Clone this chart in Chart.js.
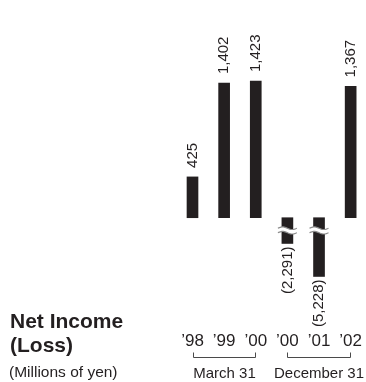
<!DOCTYPE html>
<html>
<head>
<meta charset="utf-8">
<script src="https://cdn.jsdelivr.net/npm/chart.js@4/dist/chart.umd.min.js"></script>
<style>
  html, body { margin: 0; padding: 0; background: #ffffff; }
  canvas { display: block; }
</style>
</head>
<body>
<canvas id="chart" width="366" height="382"></canvas>
<script>
// Fiscal year-end labels and net income (loss), millions of yen
const years = ['\u201998', '\u201999', '\u201900', '\u201900', '\u201901', '\u201902'];
const netIncome = [425, 1402, 1423, -2291, -5228, 1367];
// Fiscal year-end groups: caption, first index, last index
const periods = ['March 31', 'December 31'];
const periodStart = [0, 3];
const periodEnd = [2, 5];

const INK = '#231f20';
const FONT = '"Liberation Sans", Arial, Helvetica, sans-serif';

// Linear scale with a broken (compressed) negative side, so large losses fit.
class BrokenLinearScale extends Chart.LinearScale {
  squash(v) {
    const r = this.options.negativeRatio ?? 1;
    return v < 0 ? v * r : v;
  }
  determineDataLimits() {
    super.determineDataLimits();
    this.min = this.squash(this.min);
    this.max = this.squash(this.max);
  }
  getPixelForValue(v) {
    return super.getPixelForValue(v === null ? v : this.squash(v));
  }
}
BrokenLinearScale.id = 'brokenLinear';
BrokenLinearScale.defaults = Chart.LinearScale.defaults;
Chart.register(BrokenLinearScale);

function fmt(v) {
  const s = Math.abs(v).toLocaleString('en-US');
  return v < 0 ? '(' + s + ')' : s;
}

// Rotated value labels above positive bars and below negative bars
const valueLabels = {
  id: 'valueLabels',
  afterDatasetsDraw(chart) {
    const ctx = chart.ctx;
    const meta = chart.getDatasetMeta(0);
    ctx.save();
    ctx.fillStyle = INK;
    ctx.font = '15px ' + FONT;
    ctx.textBaseline = 'middle';
    meta.data.forEach((bar, i) => {
      const v = netIncome[i];
      ctx.save();
      ctx.translate(bar.x, v >= 0 ? bar.y - 9 : bar.y + 3);
      ctx.rotate(-Math.PI / 2);
      ctx.textAlign = v >= 0 ? 'left' : 'right';
      ctx.fillText(fmt(v), 0, 0);
      ctx.restore();
    });
    ctx.restore();
  }
};

// "≈" break marks on the compressed negative bars
const breakMarks = {
  id: 'breakMarks',
  afterDatasetsDraw(chart) {
    const ctx = chart.ctx;
    const meta = chart.getDatasetMeta(0);
    meta.data.forEach((bar, i) => {
      if (netIncome[i] >= 0) return;
      const x0 = bar.x - bar.width / 2 - 4;
      const x1 = bar.x + bar.width / 2 + 4;
      const c1 = bar.base + 10.5;
      const c2 = bar.base + 15;
      const amp = 1.3;
      const wave = (c, t) => c - amp * Math.sin(2 * Math.PI * t);
      const steps = 24;
      ctx.save();
      // white gap between the two waves
      ctx.beginPath();
      for (let s = 0; s <= steps; s++) {
        const t = s / steps;
        const x = x0 + (x1 - x0) * t;
        if (s === 0) ctx.moveTo(x, wave(c1, t)); else ctx.lineTo(x, wave(c1, t));
      }
      for (let s = steps; s >= 0; s--) {
        const t = s / steps;
        ctx.lineTo(x0 + (x1 - x0) * t, wave(c2, t));
      }
      ctx.closePath();
      ctx.fillStyle = '#ffffff';
      ctx.fill();
      ctx.strokeStyle = '#8c8c8c';
      ctx.lineWidth = 1.2;
      [c1, c2].forEach(c => {
        ctx.beginPath();
        for (let s = 0; s <= steps; s++) {
          const t = s / steps;
          const x = x0 + (x1 - x0) * t;
          if (s === 0) ctx.moveTo(x, wave(c, t)); else ctx.lineTo(x, wave(c, t));
        }
        ctx.stroke();
      });
      ctx.restore();
    });
  }
};

// Brackets grouping fiscal years, with the year-end captions
const periodBrackets = {
  id: 'periodBrackets',
  afterDraw(chart) {
    const ctx = chart.ctx;
    const xs = chart.scales.x;
    const y = 357.5;
    ctx.save();
    ctx.strokeStyle = '#4a4a4a';
    ctx.lineWidth = 1;
    ctx.fillStyle = INK;
    ctx.font = '15px ' + FONT;
    ctx.textAlign = 'center';
    ctx.textBaseline = 'middle';
    periods.forEach((name, k) => {
      const a = Math.round(xs.getPixelForValue(periodStart[k])) + 0.5;
      const b = Math.round(xs.getPixelForValue(periodEnd[k])) - 0.5;
      ctx.beginPath();
      ctx.moveTo(a, y - 5);
      ctx.lineTo(a, y);
      ctx.lineTo(b, y);
      ctx.lineTo(b, y - 5);
      ctx.stroke();
      ctx.fillText(name, (a + b) / 2, 374);
    });
    ctx.restore();
  }
};

// Chart title block at lower left
const titleBlock = {
  id: 'titleBlock',
  afterDraw(chart) {
    const ctx = chart.ctx;
    ctx.save();
    ctx.fillStyle = INK;
    ctx.textAlign = 'left';
    ctx.textBaseline = 'alphabetic';
    ctx.font = 'bold 21px ' + FONT;
    ctx.fillText('Net Income', 10, 328);
    ctx.fillText('(Loss)', 10, 352);
    ctx.font = '15.5px ' + FONT;
    ctx.fillText('(Millions of yen)', 9, 377);
    ctx.restore();
  }
};

new Chart(document.getElementById('chart'), {
  type: 'bar',
  data: {
    labels: years,
    datasets: [{
      data: netIncome,
      backgroundColor: INK,
      borderWidth: 0,
      barThickness: 11,
      clip: false
    }]
  },
  options: {
    responsive: false,
    animation: false,
    layout: { padding: { left: 192.5, right: 13.5, top: 10, bottom: 26.5 } },
    plugins: {
      legend: { display: false },
      tooltip: { enabled: false }
    },
    scales: {
      x: {
        offset: false,
        grid: { display: false, drawTicks: false },
        border: { display: false },
        ticks: {
          color: INK,
          font: { family: FONT, size: 17 },
          padding: 4,
          maxRotation: 0,
          autoSkip: false
        }
      },
      y: {
        type: 'brokenLinear',
        display: false,
        bounds: 'data',
        negativeRatio: 0.117,
        min: -9735,
        max: 2163
      }
    }
  },
  plugins: [valueLabels, breakMarks, periodBrackets, titleBlock]
});
</script>
</body>
</html>
